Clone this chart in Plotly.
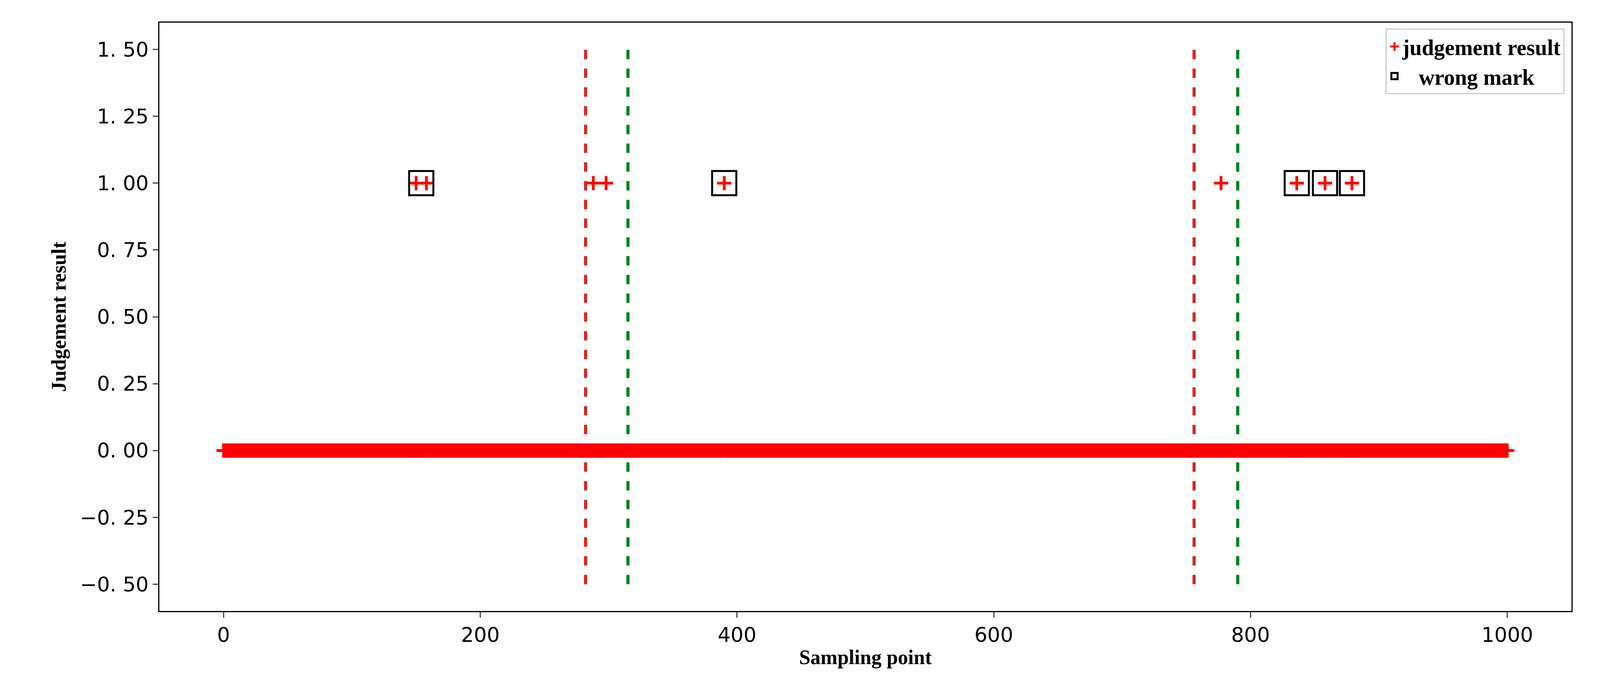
import plotly.graph_objects as go

# sampling points judged as 1
ones_x = [150, 158, 288, 298, 390, 777, 836, 858, 879]
# points flagged as wrong
wrong_x = [154, 390, 836, 858, 879]
wrong_y = [1, 1, 1, 1, 1]
# true / predicted change points
red_lines = [282, 756]
green_lines = [315, 790]

all_x = list(range(0, 1001))
judge_y = [1 if x in ones_x else 0 for x in all_x]
for x in ones_x:
    if x not in all_x:
        all_x.append(x)
        judge_y.append(1)

yticks = [-0.5, -0.25, 0, 0.25, 0.5, 0.75, 1.0, 1.25, 1.5]
ytext = ["\u22120. 50", "\u22120. 25", "0. 00", "0. 25", "0. 50", "0. 75", "1. 00", "1. 25", "1. 50"]

fig = go.Figure()
for x in red_lines:
    fig.add_trace(go.Scatter(x=[x, x], y=[-0.5, 1.5], mode="lines", showlegend=False,
                             line=dict(color="#d62728", width=8, dash="dash")))
for x in green_lines:
    fig.add_trace(go.Scatter(x=[x, x], y=[-0.5, 1.5], mode="lines", showlegend=False,
                             line=dict(color="#008020", width=8, dash="dash")))
fig.add_trace(go.Scatter(x=all_x, y=judge_y, mode="markers", name="<b>judgement result</b>",
                         marker=dict(symbol="cross-thin", size=26, line=dict(color="red", width=7))))
fig.add_trace(go.Scatter(x=wrong_x, y=wrong_y, mode="markers", name="<b>   wrong mark</b>",
                         marker=dict(symbol="square-open", size=62, color="black",
                                     line=dict(color="black", width=5))))

fig.update_layout(
    autosize=True, plot_bgcolor="white", paper_bgcolor="white",
    margin=dict(l=400, r=65, t=50, b=200),
    font=dict(family="DejaVu Sans", size=52, color="black"),
    legend=dict(x=0.995, y=0.99, xanchor="right", yanchor="top", bordercolor="#cccccc",
                borderwidth=3, bgcolor="white",
                font=dict(family="Liberation Serif", size=56, color="black")),
)
fig.update_xaxes(range=[-50, 1050], tickvals=[0, 200, 400, 600, 800, 1000], showline=True,
                 linecolor="black", linewidth=3, mirror=True, ticks="outside", ticklen=14,
                 tickwidth=3, showgrid=False, zeroline=False,
                 title=dict(text="<b>Sampling point</b>", standoff=10,
                            font=dict(family="Liberation Serif", size=52)))
fig.update_yaxes(range=[-0.6, 1.6], tickvals=yticks, ticktext=ytext, showline=True,
                 linecolor="black", linewidth=3, mirror=True, ticks="outside", ticklen=14,
                 tickwidth=3, showgrid=False, zeroline=False,
                 title=dict(text="<b>Judgement result</b>", standoff=20,
                            font=dict(family="Liberation Serif", size=52)))
fig.write_html("out.html", default_width="100%", default_height="100vh",
               config={"responsive": True})
